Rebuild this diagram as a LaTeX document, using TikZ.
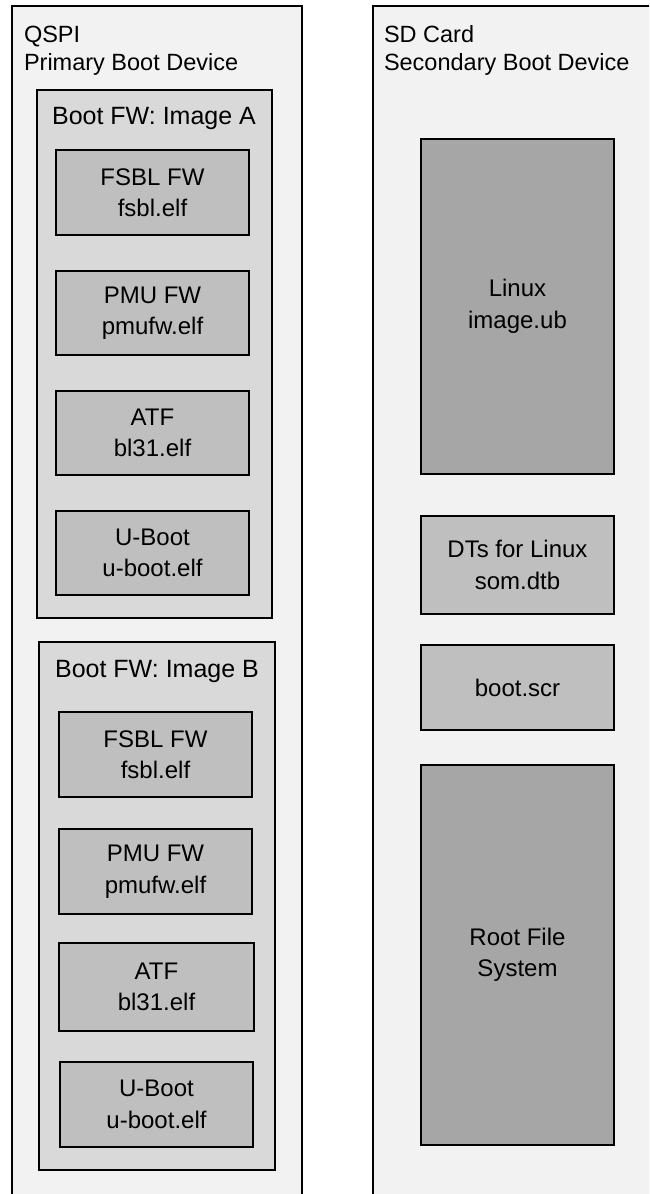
\documentclass[tikz,border=0pt]{standalone}
\usepackage{fontspec}
\setmainfont{Liberation Sans}
\definecolor{outerfill}{HTML}{F2F2F2}
\definecolor{groupfill}{HTML}{D9D9D9}
\definecolor{itemfill}{HTML}{BFBFBF}
\definecolor{bigfill}{HTML}{A6A6A6}
\begin{document}
\begin{tikzpicture}[x=1pt,y=-1pt,
  blk/.style={draw=black, line width=2pt, rectangle, anchor=north west, inner sep=0pt, outer sep=0pt, align=center, font=\fontsize{24}{31.5}\selectfont},
  outerbox/.style={blk, fill=outerfill},
  groupbox/.style={blk, fill=groupfill},
  itembox/.style={blk, fill=itemfill},
  bigbox/.style={blk, fill=bigfill},
  ttl/.style={inner sep=0pt, outer sep=0pt, font=\fontsize{23.5}{28}\selectfont},
  grpttl/.style={inner sep=0pt, outer sep=0pt, anchor=base, font=\fontsize{25}{31}\selectfont}
]
\useasboundingbox (0,0) rectangle (649,1194);
\clip (0,0) rectangle (649,1194);
\fill[white] (0,0) rectangle (649,1194);

% outer devices (open at the bottom / right)
\node[outerbox, minimum width=290, minimum height=1220] (qspi) at (12,6) {};
\node[outerbox, minimum width=300, minimum height=1220] (sd) at (373,6) {};
\node[ttl, anchor=base west] (qspit) at (24,42) {QSPI};
\node[ttl, anchor=base west] (qspis) at (24,70) {Primary Boot Device};
\node[ttl, anchor=base west] (sdt) at (384,42) {SD Card};
\node[ttl, anchor=base west] (sds) at (384,70) {Secondary Boot Device};

% Image A
\node[groupbox, minimum width=235, minimum height=528] (imga) at (37,90) {};
\node[grpttl] (imgat) at (154,124) {Boot FW: Image A};
\node[itembox, minimum width=193, minimum height=85] (fsbla) at (56,150) {FSBL FW\\fsbl.elf};
\node[itembox, minimum width=193, minimum height=84] (pmua) at (56,271) {PMU FW\\pmufw.elf};
\node[itembox, minimum width=193, minimum height=84] (atfa) at (56,391) {ATF\\bl31.elf};
\node[itembox, minimum width=193, minimum height=84] (uboota) at (56,511) {U-Boot\\u-boot.elf};

% Image B
\node[groupbox, minimum width=236, minimum height=528] (imgb) at (39,642) {};
\node[grpttl] (imgbt) at (157,677) {Boot FW: Image B};
\node[itembox, minimum width=193, minimum height=85] (fsblb) at (59,712) {FSBL FW\\fsbl.elf};
\node[itembox, minimum width=193, minimum height=85] (pmub) at (59,829) {PMU FW\\pmufw.elf};
\node[itembox, minimum width=195, minimum height=88] (atfb) at (59,943) {ATF\\bl31.elf};
\node[itembox, minimum width=193, minimum height=85] (ubootb) at (60,1062) {U-Boot\\u-boot.elf};

% SD card contents
\node[bigbox, minimum width=193, minimum height=335] (linux) at (421,139) {Linux\\image.ub};
\node[itembox, minimum width=193, minimum height=98] (dts) at (421,516) {DTs for Linux\\som.dtb};
\node[itembox, minimum width=193, minimum height=85] (bootscr) at (421,645) {boot.scr};
\node[bigbox, minimum width=193, minimum height=380] (rootfs) at (421,765) {Root File\\System};
\end{tikzpicture}
\end{document}
